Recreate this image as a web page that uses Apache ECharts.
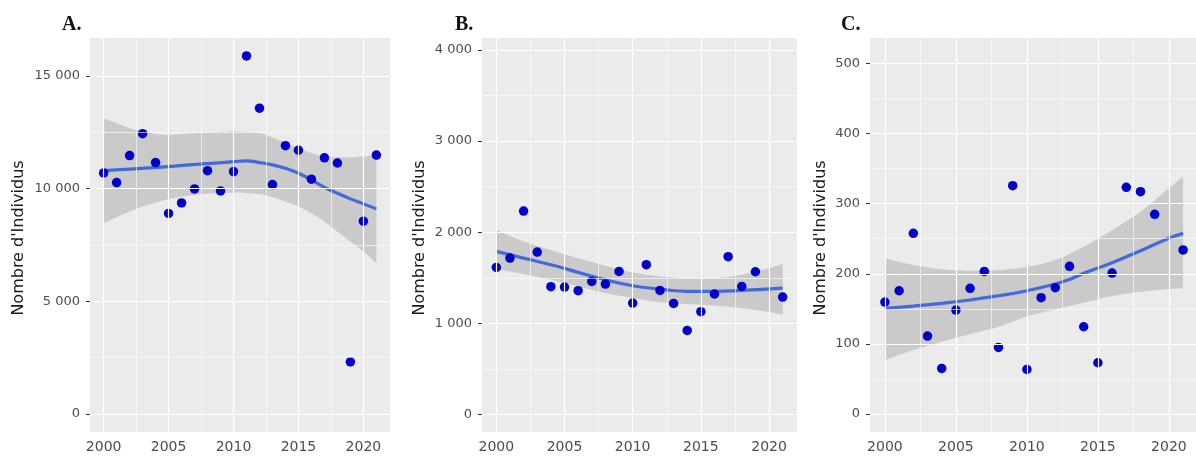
<!DOCTYPE html>
<html>
<head>
<meta charset="utf-8">
<script src="https://cdn.jsdelivr.net/npm/echarts@6/dist/echarts.min.js"></script>
<style>
html,body{margin:0;padding:0;background:#ffffff;}
#chart{width:1196px;height:457px;}
</style>
</head>
<body>
<div id="chart"></div>
<script>
// ---------- DATA ----------
// Panel A
const yearsA  = [2000,2001,2002,2003,2004,2005,2006,2007,2008,2009,2010,2011,2012,2013,2014,2015,2016,2017,2018,2019,2020,2021];
const countsA = [10700,10270,11470,12440,11160,8900,9370,9990,10800,9900,10760,15890,13570,10180,11910,11710,10420,11370,11140,2320,8560,11490];
const fitYearsA = [2000,2005,2010,2011,2012,2013,2014,2015,2016,2017,2018,2019,2020,2021];
const fitA      = [10804,10981,11203,11233,11159,11055,10908,10686,10390,10065,9799,9548,9326,9104];
const bandYearsA = [2000,2001,2002,2003,2004,2005,2007,2010,2012,2013,2014,2015,2016,2017,2018,2019,2020,2021];
const upperA     = [13125,12905,12683,12535,12430,12386,12460,12535,12460,12266,12031,11796,11574,11426,11397,11397,11426,11499];
const lowerA     = [8470,8736,8985,9207,9384,9532,9725,9827,9755,9622,9430,9207,8913,8541,8098,7654,7211,6696];

// Panel B
const yearsB  = [2000,2001,2002,2003,2004,2005,2006,2007,2008,2009,2010,2011,2012,2013,2014,2015,2016,2017,2018,2019,2021];
const countsB = [1614,1717,2232,1783,1403,1399,1359,1461,1432,1570,1224,1644,1362,1220,924,1129,1323,1732,1406,1567,1290];
const fitYearsB = [2000,2002,2004,2005,2006,2008,2010,2012,2014,2016,2018,2021];
const fitB      = [1790,1717,1644,1604,1560,1479,1414,1377,1352,1352,1362,1388];
const bandYearsB = [2000,2002,2004,2006,2008,2010,2012,2014,2016,2018,2020,2021];
const upperB     = [2027,1900,1805,1715,1633,1560,1516,1494,1494,1534,1607,1655];
const lowerB     = [1596,1542,1479,1406,1333,1279,1235,1213,1195,1169,1125,1096];

// Panel C
const yearsC  = [2000,2001,2002,2003,2004,2005,2006,2007,2008,2009,2010,2011,2012,2013,2014,2015,2016,2017,2018,2019,2021];
const countsC = [159.7,175.8,257.6,111.2,65.1,148.3,179.2,203.4,95.1,325.6,63.7,165.9,180.1,210.6,124.5,73.2,201,323.2,317,284.7,233.9];
const fitYearsC = [2000,2002,2004,2006,2008,2010,2012,2013,2014,2016,2018,2020,2021];
const fitC      = [150.7,154,157.8,162.6,168.7,175.8,185.4,192,200.6,215.7,232.9,250.5,257.6];
const bandYearsC = [2000,2002,2004,2006,2008,2010,2012,2014,2016,2018,2020,2021];
const upperC     = [222,212.5,206.3,204.3,205.3,210,219.6,238.6,262.4,288.5,321.8,338.4];
const lowerC     = [77,91.3,103.1,114.1,124.5,139,149.3,158.7,168.3,174.4,178.2,179.2];

// Tick labels
const xTicks  = [2000,2005,2010,2015,2020];
const xMinor  = [2002.5,2007.5,2012.5,2017.5];
const yTicksA = [0,5000,10000,15000];
const yMinorA = [2500,7500,12500];
const yTicksB = [0,1000,2000,3000,4000];
const yMinorB = [500,1500,2500,3500];
const yTicksC = [0,100,200,300,400,500];
const yMinorC = [50,150,250,350,450];
const panelLabels = ['A.','B.','C.'];
const yTitle = "Nombre d'Individus";

// ---------- LAYOUT / STYLE ----------
const panels = [
  {grid:{left:90, top:38, width:300, height:394}, xr:[1998.95,2022.05], yr:[-795,16685],
   years:yearsA, counts:countsA, fy:fitYearsA, fv:fitA, by:bandYearsA, up:upperA, lo:lowerA,
   yT:yTicksA, yM:yMinorA, titleX:62, ytX:19},
  {grid:{left:482, top:38, width:315, height:394}, xr:[1998.95,2022.05], yr:[-190,4130],
   years:yearsB, counts:countsB, fy:fitYearsB, fv:fitB, by:bandYearsB, up:upperB, lo:lowerB,
   yT:yTicksB, yM:yMinorB, titleX:455, ytX:420},
  {grid:{left:870, top:38, width:328, height:394}, xr:[1998.95,2022.05], yr:[-25.5,536],
   years:yearsC, counts:countsC, fy:fitYearsC, fv:fitC, by:bandYearsC, up:upperC, lo:lowerC,
   yT:yTicksC, yM:yMinorC, titleX:841, ytX:821}
];

const fmt = v => String(v).replace(/\B(?=(\d{3})+(?!\d))/g, ' ');
const labelColor = '#4d4d4d';
const FONT = 'DejaVu Sans';

// Catmull-Rom densification of pixel points (for a smooth band outline)
function spline(pts) {
  const out = [];
  const n = pts.length;
  for (let i = 0; i < n - 1; i++) {
    const p0 = pts[Math.max(i - 1, 0)], p1 = pts[i], p2 = pts[i + 1], p3 = pts[Math.min(i + 2, n - 1)];
    const steps = 12;
    for (let s = 0; s < steps; s++) {
      const t = s / steps, t2 = t * t, t3 = t2 * t;
      const f = (a, b, c, d) => 0.5 * ((2 * b) + (-a + c) * t + (2 * a - 5 * b + 4 * c - d) * t2 + (-a + 3 * b - 3 * c + d) * t3);
      out.push([f(p0[0], p1[0], p2[0], p3[0]), f(p0[1], p1[1], p2[1], p3[1])]);
    }
  }
  out.push(pts[n - 1]);
  return out;
}

const option = {
  backgroundColor:'#ffffff',
  animation:false,
  grid:[], xAxis:[], yAxis:[], series:[], graphic:[]
};

panels.forEach((p, i) => {
  option.grid.push(Object.assign({containLabel:false, outerBoundsMode:'none',
    show:true, backgroundColor:'#EBEBEB', borderWidth:0}, p.grid));
  option.xAxis.push({
    type:'value', gridIndex:i, min:p.xr[0], max:p.xr[1],
    axisLine:{show:false}, splitLine:{show:false},
    axisTick:{show:true, customValues:xTicks, length:4, lineStyle:{color:'#333', width:1}},
    axisLabel:{customValues:xTicks, color:labelColor, fontFamily:FONT, fontSize:14, margin:8, formatter:v=>String(v)}
  });
  option.yAxis.push({
    type:'value', gridIndex:i, min:p.yr[0], max:p.yr[1],
    axisLine:{show:false}, splitLine:{show:false},
    axisTick:{show:true, customValues:p.yT, length:4, lineStyle:{color:'#333', width:1}},
    axisLabel:{customValues:p.yT, color:labelColor, fontFamily:FONT, fontSize:13, margin:10, formatter:fmt}
  });
  // white grid lines behind everything
  const mk = [];
  p.yM.forEach(v => mk.push({yAxis:v, lineStyle:{width:0.6}}));
  xMinor.forEach(v => mk.push({xAxis:v, lineStyle:{width:0.6}}));
  p.yT.forEach(v => mk.push({yAxis:v, lineStyle:{width:1.2}}));
  xTicks.forEach(v => mk.push({xAxis:v, lineStyle:{width:1.2}}));
  option.series.push({
    type:'scatter', xAxisIndex:i, yAxisIndex:i, data:[], z:1, silent:true,
    markLine:{silent:true, symbol:['none','none'], label:{show:false},
      lineStyle:{color:'#ffffff', type:'solid'}, emphasis:{disabled:true}, animation:false, data:mk}
  });
  // confidence band (polygon from upper & lower bounds through the axes)
  option.series.push({
    type:'custom', xAxisIndex:i, yAxisIndex:i, silent:true, z:2, clip:true,
    data:[[p.by[0], p.up[0]]],
    renderItem:(params, api) => {
      const U = p.by.map((x,k) => api.coord([x, p.up[k]]));
      const L = p.by.map((x,k) => api.coord([x, p.lo[k]]));
      const pts = spline(U).concat(spline(L).reverse());
      return {type:'polygon', shape:{points:pts}, style:{fill:'rgba(153,153,153,0.4)'}};
    }
  });
  // smooth fit line
  option.series.push({
    type:'line', xAxisIndex:i, yAxisIndex:i, smooth:true, symbol:'none', silent:true, z:3,
    lineStyle:{color:'#4469DD', width:3.2}, data:p.fy.map((x,k)=>[x, p.fv[k]])
  });
  // points
  option.series.push({
    type:'scatter', xAxisIndex:i, yAxisIndex:i, symbol:'circle', symbolSize:9.5, silent:true, z:4,
    itemStyle:{color:'#0000CC', opacity:1}, data:p.years.map((x,k)=>[x, p.counts[k]])
  });
  // panel label
  option.graphic.push({type:'text', x:p.titleX, y:25, silent:true,
    style:{text:panelLabels[i], font:'bold 20px "Liberation Serif", "DejaVu Serif", serif', fill:'#111', align:'left', verticalAlign:'middle'}});
  // y-axis title
  option.graphic.push({type:'text', x:p.ytX, y:p.grid.top + p.grid.height/2 + 3, rotation:Math.PI/2, silent:true,
    style:{text:yTitle, font:'16px "DejaVu Sans", sans-serif', fill:'#1a1a1a', align:'center', verticalAlign:'middle'}});
});

const chart = echarts.init(document.getElementById('chart'), null, {renderer:'canvas'});
chart.setOption(option);
</script>
</body>
</html>
